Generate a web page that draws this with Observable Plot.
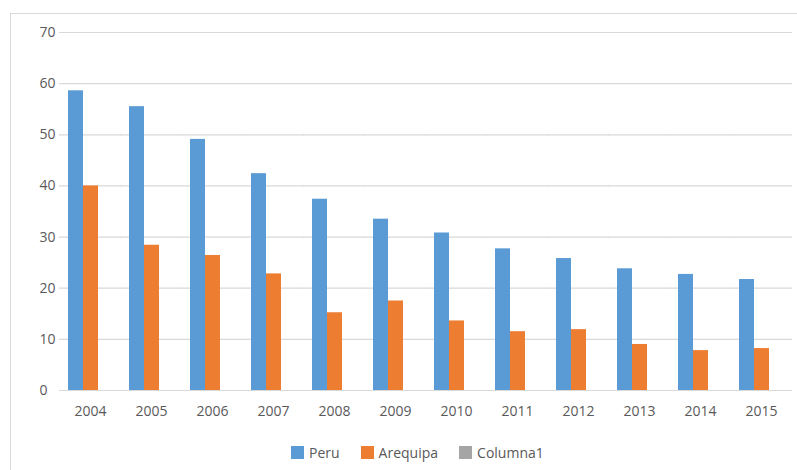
<!DOCTYPE html>
<html>
<head>
<meta charset="utf-8">
<script src="https://cdn.jsdelivr.net/npm/d3@7"></script>
<script src="https://cdn.jsdelivr.net/npm/@observablehq/plot@0.6"></script>
<style>
  html, body { margin: 0; padding: 0; background: #fff; width: 797px; height: 470px; overflow: hidden; }
  #frame { position: absolute; left: 10px; top: 13px; width: 900px; height: 600px; border: 1px solid #d9d9d9; box-sizing: border-box; }
  #chart { position: absolute; left: 0; top: 0; }
  #legend { position: absolute; left: 291px; top: 443px; display: flex; align-items: center; font-family: "Open Sans", sans-serif; font-size: 14px; color: #595959; }
  .item { display: flex; align-items: center; margin-right: 21px; }
  .sw { width: 13px; height: 13px; margin-right: 5px; }
</style>
</head>
<body>
<div id="frame"></div>
<div id="chart"></div>
<div id="legend"></div>
<script>
const years = ["2004","2005","2006","2007","2008","2009","2010","2011","2012","2013","2014","2015"];
const seriesNames = ["Peru", "Arequipa", "Columna1"];
const peru = [58.6, 55.5, 49.1, 42.4, 37.4, 33.5, 30.8, 27.7, 25.8, 23.8, 22.7, 21.7];
const arequipa = [40.0, 28.4, 26.4, 22.8, 15.2, 17.5, 13.6, 11.5, 11.9, 9.0, 7.8, 8.2];
const colors = ["#5B9BD5", "#ED7D31", "#A5A5A5"];
const yTicks = [0, 10, 20, 30, 40, 50, 60, 70];

const rows = [];
years.forEach((yr, i) => {
  rows.push({year: yr, series: "Peru", value: peru[i]});
  rows.push({year: yr, series: "Arequipa", value: arequipa[i]});
});

const plot = Plot.plot({
  width: 797,
  height: 430,
  marginLeft: 57,
  marginRight: 4,
  marginTop: 32,
  marginBottom: 40,
  style: { fontFamily: "Open Sans, sans-serif", fontSize: "14px", color: "#595959", background: "transparent" },
  fx: { domain: years, paddingInner: 0.25, paddingOuter: 0.125, label: null },
  x: { domain: seriesNames, padding: 0, axis: null },
  y: { domain: [0, 70], label: null },
  color: { domain: seriesNames, range: colors },
  marks: [
    Plot.ruleY(yTicks, { stroke: "#d9d9d9", strokeWidth: 1.2, insetLeft: -8, insetRight: -8 }),
    Plot.axisY(yTicks, { tickSize: 0, tickPadding: 28, textAnchor: "start", label: null, fill: "#595959" }),
    Plot.axisFx({ anchor: "bottom", tickSize: 0, tickPadding: 16, label: null, fill: "#595959" }),
    Plot.barY(rows, { fx: "year", x: "series", y: "value", fill: "series" })
  ]
});
document.getElementById("chart").appendChild(plot);

const legend = document.getElementById("legend");
seriesNames.forEach((s, i) => {
  const item = document.createElement("div");
  item.className = "item";
  const sw = document.createElement("div");
  sw.className = "sw";
  sw.style.background = colors[i];
  const t = document.createElement("span");
  t.textContent = s;
  item.appendChild(sw);
  item.appendChild(t);
  legend.appendChild(item);
});
</script>
</body>
</html>
